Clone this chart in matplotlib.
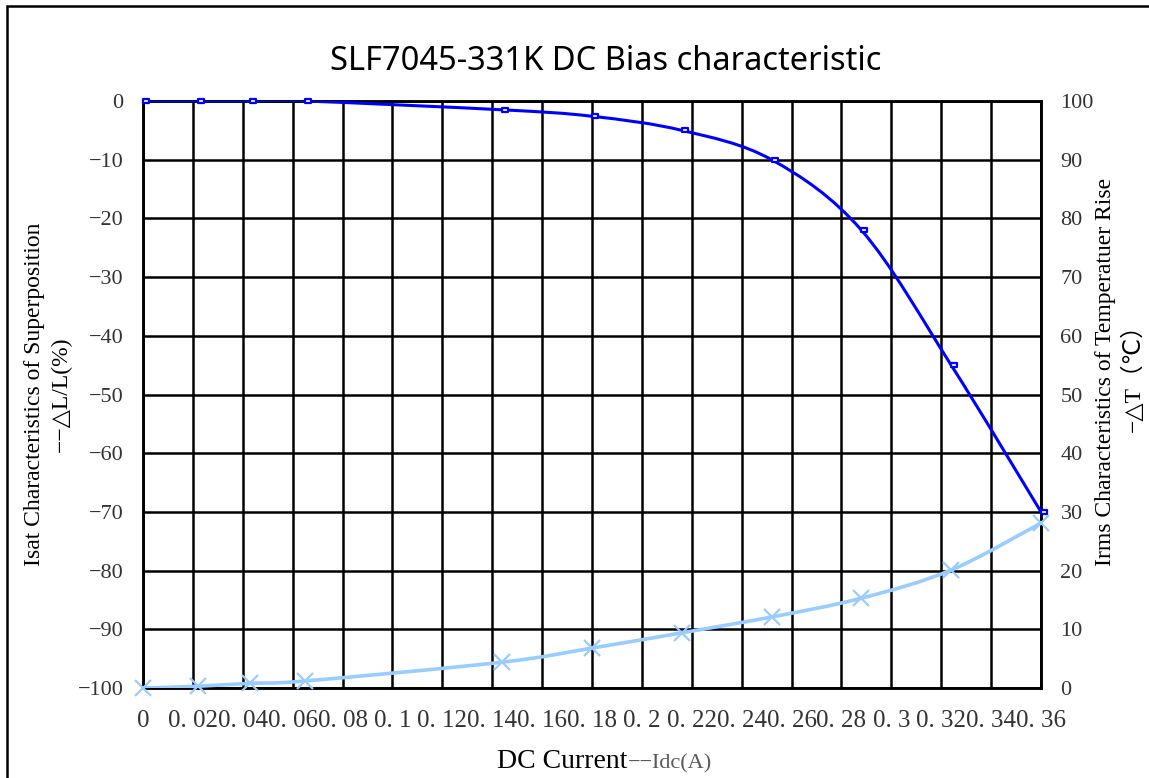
import numpy as np
import matplotlib
matplotlib.use("Agg")
import matplotlib.pyplot as plt
from matplotlib.path import Path
from matplotlib.patches import PathPatch, Rectangle

# data
current = [0, 0.022, 0.043, 0.065, 0.144, 0.18, 0.216, 0.252, 0.288, 0.324, 0.36]
inductance_drop = [0, 0, 0, 0, -1.5, -2.6, -5.0, -10.0, -22.0, -45.0, -70.0]
temp_rise = [0, 0.3, 0.8, 1.2, 4.4, 6.8, 9.4, 12.1, 15.3, 20.1, 28.1]
x_ticks = [0, 0.02, 0.04, 0.06, 0.08, 0.1, 0.12, 0.14, 0.16, 0.18, 0.2,
           0.22, 0.24, 0.26, 0.28, 0.3, 0.32, 0.34, 0.36]
x_tick_labels = ["0", "0. 02", "0. 04", "0. 06", "0. 08", "0. 1", "0. 12", "0. 14",
                 "0. 16", "0. 18", "0. 2", "0. 22", "0. 24", "0. 26", "0. 28", "0. 3",
                 "0. 32", "0. 34", "0. 36"]
left_ticks = [0, -10, -20, -30, -40, -50, -60, -70, -80, -90, -100]
right_ticks = [100, 90, 80, 70, 60, 50, 40, 30, 20, 10, 0]

DARK = "#0000FF"
LIGHT = "#99CCFF"
SERIF = ["Liberation Serif", "DejaVu Sans"]

W, H = 1149, 778


def smooth_path(xs, ys):
    """Excel-like smoothed line: Bezier segments with Catmull-Rom control points."""
    p = np.column_stack([xs, ys]).astype(float)
    n = len(p)
    verts = [p[0]]
    codes = [Path.MOVETO]
    for i in range(n - 1):
        p0 = p[i - 1] if i > 0 else p[i]
        p3 = p[i + 2] if i + 2 < n else p[i + 1]
        c1 = p[i] + (p[i + 1] - p0) / 6.0
        c2 = p[i + 1] - (p3 - p[i]) / 6.0
        verts += [c1, c2, p[i + 1]]
        codes += [Path.CURVE4] * 3
    return Path(verts, codes)


# small rectangle marker drawn to the right of the point (like the reference)
rect_marker = Path([(0, -0.3), (1, -0.3), (1, 0.3), (0, 0.3), (0, -0.3)],
                   [Path.MOVETO, Path.LINETO, Path.LINETO, Path.LINETO, Path.CLOSEPOLY])

fig = plt.figure(figsize=(W / 100, H / 100), dpi=100)
fig.patch.set_facecolor("white")

# chart area border
fig.patches.append(Rectangle((7 / W, -0.05), 1.2, 1 - 6 / H + 0.05,
                             transform=fig.transFigure, fill=False,
                             edgecolor="black", linewidth=1.8))

ax = fig.add_axes([143 / W, (H - 688) / H, 898 / W, 587 / H])
ax2 = ax.twinx()

ax.set_xlim(0, 0.36)
ax.set_ylim(-100, 0)
ax2.set_ylim(0, 100)

ax.set_xticks(x_ticks)
ax.set_xticklabels(x_tick_labels, family=SERIF, fontsize=18, color="#333333")
ax.set_yticks(left_ticks)
ax.set_yticklabels([str(v).replace("-", "\u2212") for v in left_ticks],
                   family=SERIF, fontsize=16, color="#333333")
ax2.set_yticks(right_ticks)
ax2.set_yticklabels([str(v) for v in right_ticks], family=SERIF, fontsize=16,
                    color="#333333")

ax.tick_params(axis="x", length=0, pad=16)
ax.tick_params(axis="y", length=0, pad=14)
ax2.tick_params(axis="y", length=0, pad=14)

ax.grid(True, color="black", linewidth=1.8)
ax.set_axisbelow(True)
for sp in list(ax.spines.values()) + list(ax2.spines.values()):
    sp.set_color("black")
    sp.set_linewidth(1.8)

# light blue temperature rise (right axis)
ax2.add_patch(PathPatch(smooth_path(current, temp_rise), facecolor="none",
                        edgecolor=LIGHT, linewidth=2.6, zorder=3))
ax2.plot(current, temp_rise, linestyle="none", marker="x", markersize=12,
         markeredgewidth=1.6, color=LIGHT, zorder=4, clip_on=False)

# dark blue inductance drop (left axis values, drawn on top of the twin axes)
dark_line = PathPatch(smooth_path(current, inductance_drop), facecolor="none",
                      edgecolor=DARK, linewidth=2.2, zorder=5,
                      transform=ax.transData)
ax2.add_patch(dark_line)
dark_line.set_transform(ax.transData)
ax2.plot(current, inductance_drop, linestyle="none", marker=rect_marker,
         markersize=9, markerfacecolor="white", markeredgecolor=DARK,
         markeredgewidth=1.6, zorder=6, transform=ax.transData, clip_on=False)

fig.text(606 / W, 1 - 70 / H, "SLF7045-331K DC Bias characteristic",
         ha="center", va="baseline", fontsize=23.5, family="Noto Sans",
         color="black")

fig.text(48 / W, 1 - 394 / H,
         "Isat Characteristics of Superposition\n\u2212\u2212\u25b3L/L(%)",
         rotation=90, ha="center", va="center", multialignment="center",
         family=SERIF, fontsize=17, linespacing=1.35, color="black")

fig.text(1120 / W, 1 - 372 / H,
         "Irms Characteristics of Temperatuer Rise\n\u2212\u25b3T\uff08\u2103\uff09",
         rotation=90, ha="center", va="center", multialignment="center",
         family=SERIF + ["Noto Sans CJK SC"], fontsize=17, linespacing=1.3,
         color="black")

fig.text(627 / W, 1 - 768 / H, "DC Current", ha="right", va="baseline",
         family=SERIF, fontsize=20, color="black")
fig.text(628 / W, 1 - 768 / H, "\u2212\u2212Idc(A)", ha="left", va="baseline",
         family=SERIF, fontsize=16, color="#595959")

fig.savefig("out.png", dpi=100)
